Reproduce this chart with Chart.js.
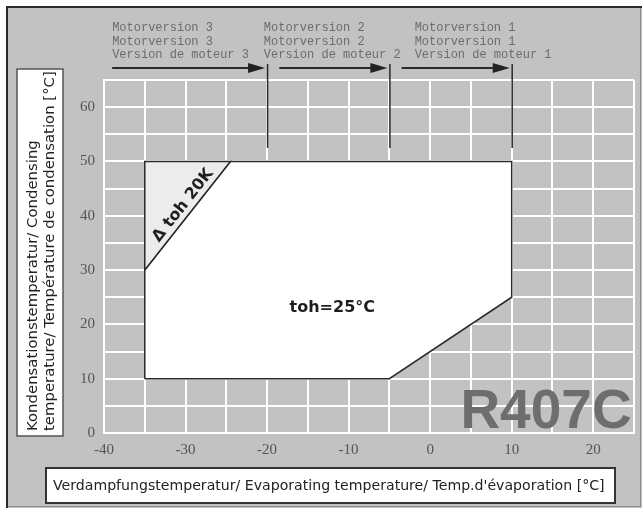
<!DOCTYPE html>
<html>
<head>
<meta charset="utf-8">
<script src="https://cdn.jsdelivr.net/npm/chart.js@4.4.1/dist/chart.umd.min.js"></script>
<style>
  html, body { margin: 0; padding: 0; background: #fff; }
  #wrap { width: 642px; height: 508px; position: relative; }
</style>
</head>
<body>
<div id="wrap"><canvas id="myChart" width="642" height="508"></canvas></div>
<script>
'use strict';

// operating envelope R407C (evaporating / condensing temperature, °C)
const envelopeX = [-35, -35, -24.5, 10, 10, -5, -35];
const envelopeY = [10, 30, 50, 50, 25, 10, 10];

// corner zone "delta toh 20K"
const deltaX = [-35, -35, -24.5, -35];
const deltaY = [30, 50, 50, 30];

// motor version limits along the evaporating axis
const motorLimits = [-20, -5, 10];
const motorStarts = [-39, -18.5, -3.5];
const motorTextX = [-39, -20.4, -1.9];
const motorTexts = [
  ['Motorversion 3', 'Motorversion 3', 'Version de moteur 3'],
  ['Motorversion 2', 'Motorversion 2', 'Version de moteur 2'],
  ['Motorversion 1', 'Motorversion 1', 'Version de moteur 1']
];

const xLabeled = [-40, -30, -20, -10, 0, 10, 20];
const yLabeled = [0, 10, 20, 30, 40, 50, 60];

const xTitle = 'Verdampfungstemperatur/ Evaporating temperature/ Temp.d\'évaporation [°C]';
const yTitle = ['Kondensationstemperatur/ Condensing', 'temperature/ Température de condensation [°C]'];
const refrigerant = 'R407C';
const superheat = 'toh=25°C';
const deltaLabel = 'Δ toh 20K';

const GRAY = '#c2c2c2';
const toPoints = (xs, ys) => xs.map((x, i) => ({ x: x, y: ys[i] }));

// fit a font to a given width
const fitFont = (ctx, text, weight, family, width) => {
  ctx.font = weight + ' 20px ' + family;
  const size = 20 * width / ctx.measureText(text).width;
  return weight + ' ' + size.toFixed(2) + 'px ' + family;
};

const framePlugin = {
  id: 'frame',
  beforeDraw: chart => {
    const ctx = chart.ctx;
    const w = chart.width, h = chart.height;
    ctx.save();
    ctx.fillStyle = '#fff';
    ctx.fillRect(0, 0, w, h);
    ctx.fillStyle = GRAY;
    ctx.fillRect(7, 7, w - 7, h - 7);
    ctx.strokeStyle = '#8a8a8a';
    ctx.lineWidth = 1;
    ctx.strokeRect(7.5, 7.5, w - 9, h - 9);
    ctx.strokeStyle = '#2a2a2a';
    ctx.lineWidth = 2;
    ctx.beginPath();
    ctx.moveTo(7, h);
    ctx.lineTo(7, 7);
    ctx.lineTo(w, 7);
    ctx.stroke();
    ctx.restore();
  },
  afterDraw: chart => {
    const ctx = chart.ctx;
    const xs = chart.scales.x, ys = chart.scales.y;
    ctx.save();

    // y title box
    ctx.fillStyle = '#fff';
    ctx.fillRect(17, 69, 46, 367);
    ctx.strokeStyle = '#555';
    ctx.lineWidth = 1.5;
    ctx.strokeRect(17, 69, 46, 367);
    ctx.save();
    ctx.rotate(-Math.PI / 2);
    ctx.fillStyle = '#222';
    ctx.textBaseline = 'middle';
    ctx.textAlign = 'left';
    ctx.font = fitFont(ctx, yTitle[1], 'normal', '"DejaVu Sans"', 360);
    ctx.fillText(yTitle[0], -431, 33);
    ctx.fillText(yTitle[1], -431, 50);
    ctx.restore();

    // x title box
    ctx.fillStyle = '#fff';
    ctx.fillRect(46, 468, 569, 35);
    ctx.strokeStyle = '#333';
    ctx.lineWidth = 2;
    ctx.strokeRect(46, 468, 569, 35);
    ctx.fillStyle = '#222';
    ctx.textAlign = 'left';
    ctx.textBaseline = 'middle';
    ctx.font = fitFont(ctx, xTitle, 'normal', '"DejaVu Sans"', 552);
    ctx.fillText(xTitle, 53, 486);

    // motor version blocks
    ctx.font = '12px "Liberation Mono"';
    ctx.textBaseline = 'middle';
    motorTexts.forEach((lines, i) => {
      const tx = xs.getPixelForValue(motorTextX[i]);
      ctx.fillStyle = '#6c6c6c';
      lines.forEach((line, j) => ctx.fillText(line, tx, 28 + j * 13.6));

      const x0 = xs.getPixelForValue(motorStarts[i]);
      const x1 = xs.getPixelForValue(motorLimits[i]) - 2;
      ctx.strokeStyle = '#2a2a2a';
      ctx.fillStyle = '#222';
      ctx.lineWidth = 2;
      ctx.beginPath();
      ctx.moveTo(x0, 68);
      ctx.lineTo(x1 - 14, 68);
      ctx.stroke();
      ctx.beginPath();
      ctx.moveTo(x1, 68);
      ctx.lineTo(x1 - 17, 63);
      ctx.lineTo(x1 - 17, 73);
      ctx.closePath();
      ctx.fill();

      const lx = xs.getPixelForValue(motorLimits[i]) + 0.5;
      ctx.lineWidth = 1.5;
      ctx.beginPath();
      ctx.moveTo(lx, 64);
      ctx.lineTo(lx, ys.getPixelForValue(52.5));
      ctx.stroke();
    });

    // refrigerant name
    ctx.fillStyle = '#6e6e6e';
    ctx.textAlign = 'center';
    ctx.textBaseline = 'alphabetic';
    ctx.font = 'bold 55px "Liberation Sans"';
    ctx.fillText(refrigerant, 546, 428);

    // superheat labels
    ctx.fillStyle = '#1e1e1e';
    ctx.font = 'bold 16px "DejaVu Sans"';
    ctx.textBaseline = 'middle';
    ctx.fillText(superheat, xs.getPixelForValue(-12), ys.getPixelForValue(23));

    const ax = xs.getPixelForValue(deltaX[0]), ay = ys.getPixelForValue(deltaY[0]);
    const bx = xs.getPixelForValue(deltaX[2]), by = ys.getPixelForValue(deltaY[2]);
    const ang = Math.atan2(by - ay, bx - ax);
    ctx.save();
    ctx.translate(xs.getPixelForValue(-30.3), ys.getPixelForValue(41.9));
    ctx.rotate(ang);
    ctx.fillText(deltaLabel, 0, 0);
    ctx.restore();

    ctx.restore();
  }
};

const ctx = document.getElementById('myChart').getContext('2d');

const chart = new Chart(ctx, {
  type: 'scatter',
  data: {
    datasets: [
      {
        data: toPoints(deltaX, deltaY),
        showLine: true,
        fill: 'shape',
        backgroundColor: '#ececec',
        borderColor: '#2a2a2a',
        borderWidth: 1.5,
        pointRadius: 0,
        tension: 0
      },
      {
        data: toPoints(envelopeX, envelopeY),
        showLine: true,
        fill: 'shape',
        backgroundColor: '#ffffff',
        borderColor: '#2a2a2a',
        borderWidth: 1.5,
        pointRadius: 0,
        tension: 0
      }
    ]
  },
  options: {
    responsive: false,
    animation: false,
    layout: { padding: { top: 80, right: 7, bottom: 0, left: 0 } },
    plugins: {
      legend: { display: false },
      tooltip: { enabled: false }
    },
    scales: {
      x: {
        type: 'linear',
        min: -40,
        max: 25,
        afterFit: scale => { scale.height = 75; },
        afterBuildTicks: scale => {
          scale.ticks = [];
          for (let v = -40; v <= 25; v += 5) scale.ticks.push({ value: v });
        },
        ticks: {
          autoSkip: false,
          maxRotation: 0,
          padding: 8,
          color: '#555',
          font: { family: '"Liberation Serif"', size: 15 },
          callback: v => xLabeled.includes(v) ? String(v) : ''
        },
        grid: { color: '#ffffff', lineWidth: 2, drawTicks: false },
        border: { color: '#ffffff', width: 2 }
      },
      y: {
        type: 'linear',
        min: 0,
        max: 65,
        afterFit: scale => { scale.width = 104; },
        afterBuildTicks: scale => {
          scale.ticks = [];
          for (let v = 0; v <= 65; v += 5) scale.ticks.push({ value: v });
        },
        ticks: {
          autoSkip: false,
          padding: 9,
          color: '#555',
          font: { family: '"Liberation Serif"', size: 15 },
          callback: v => yLabeled.includes(v) ? String(v) : ''
        },
        grid: { color: '#ffffff', lineWidth: 2, drawTicks: false },
        border: { color: '#ffffff', width: 2 }
      }
    }
  },
  plugins: [framePlugin]
});
</script>
</body>
</html>
